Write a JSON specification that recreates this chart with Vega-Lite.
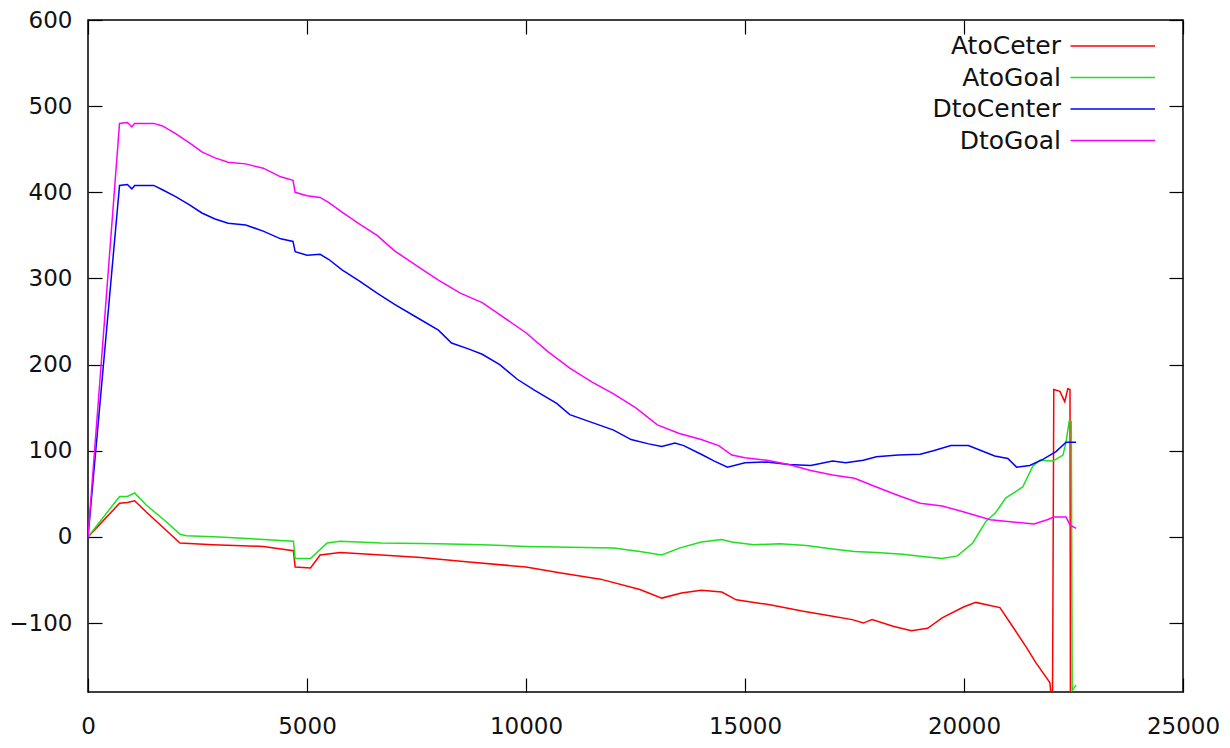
{
  "$schema": "https://vega.github.io/schema/vega-lite/v6.json",
  "width": 1095,
  "height": 672,
  "autosize": {"type": "none"},
  "padding": {"left": 88, "top": 20, "right": 47, "bottom": 56},
  "background": "white",
  "config": {
    "view": {"stroke": "#000", "strokeWidth": 1.5},
    "axis": {
      "labelFont": "DejaVu Sans",
      "labelFontSize": 23,
      "labelColor": "#111",
      "domain": false,
      "grid": false,
      "tickColor": "#000",
      "tickWidth": 1.2,
      "tickSize": -14,
      "title": null
    }
  },
  "datasets": {
    "series": [
      {"s": "AtoCeter", "x": 0, "v": 0},
      {"s": "AtoCeter", "x": 720, "v": 39},
      {"s": "AtoCeter", "x": 900, "v": 40},
      {"s": "AtoCeter", "x": 1065, "v": 42},
      {"s": "AtoCeter", "x": 1330, "v": 29},
      {"s": "AtoCeter", "x": 2100, "v": -7},
      {"s": "AtoCeter", "x": 2850, "v": -9},
      {"s": "AtoCeter", "x": 4000, "v": -11},
      {"s": "AtoCeter", "x": 4690, "v": -16},
      {"s": "AtoCeter", "x": 4730, "v": -35},
      {"s": "AtoCeter", "x": 5080, "v": -36},
      {"s": "AtoCeter", "x": 5300, "v": -21},
      {"s": "AtoCeter", "x": 5760, "v": -18},
      {"s": "AtoCeter", "x": 6700, "v": -21},
      {"s": "AtoCeter", "x": 7600, "v": -24},
      {"s": "AtoCeter", "x": 8700, "v": -29},
      {"s": "AtoCeter", "x": 10000, "v": -35},
      {"s": "AtoCeter", "x": 10800, "v": -42},
      {"s": "AtoCeter", "x": 11700, "v": -49},
      {"s": "AtoCeter", "x": 12600, "v": -61},
      {"s": "AtoCeter", "x": 13100, "v": -71},
      {"s": "AtoCeter", "x": 13550, "v": -65},
      {"s": "AtoCeter", "x": 14000, "v": -62},
      {"s": "AtoCeter", "x": 14470, "v": -64},
      {"s": "AtoCeter", "x": 14800, "v": -73},
      {"s": "AtoCeter", "x": 15600, "v": -79},
      {"s": "AtoCeter", "x": 16300, "v": -86},
      {"s": "AtoCeter", "x": 17000, "v": -92},
      {"s": "AtoCeter", "x": 17450, "v": -96},
      {"s": "AtoCeter", "x": 17700, "v": -100},
      {"s": "AtoCeter", "x": 17900, "v": -96},
      {"s": "AtoCeter", "x": 18400, "v": -104},
      {"s": "AtoCeter", "x": 18800, "v": -109},
      {"s": "AtoCeter", "x": 19170, "v": -106},
      {"s": "AtoCeter", "x": 19500, "v": -94},
      {"s": "AtoCeter", "x": 20000, "v": -81},
      {"s": "AtoCeter", "x": 20270, "v": -76},
      {"s": "AtoCeter", "x": 20820, "v": -82},
      {"s": "AtoCeter", "x": 21110, "v": -104},
      {"s": "AtoCeter", "x": 21410, "v": -127},
      {"s": "AtoCeter", "x": 21640, "v": -146},
      {"s": "AtoCeter", "x": 21960, "v": -169},
      {"s": "AtoCeter", "x": 22020, "v": -200},
      {"s": "AtoCeter", "x": 22050, "v": 171},
      {"s": "AtoCeter", "x": 22190, "v": 169},
      {"s": "AtoCeter", "x": 22300, "v": 157},
      {"s": "AtoCeter", "x": 22370, "v": 172},
      {"s": "AtoCeter", "x": 22420, "v": 171},
      {"s": "AtoCeter", "x": 22430, "v": -200},
      {"s": "AtoCeter", "x": 22560, "v": -200},

      {"s": "AtoGoal", "x": 0, "v": 0},
      {"s": "AtoGoal", "x": 720, "v": 47},
      {"s": "AtoGoal", "x": 900, "v": 47},
      {"s": "AtoGoal", "x": 1065, "v": 51},
      {"s": "AtoGoal", "x": 1330, "v": 37},
      {"s": "AtoGoal", "x": 1800, "v": 17},
      {"s": "AtoGoal", "x": 2100, "v": 3},
      {"s": "AtoGoal", "x": 2250, "v": 1.5},
      {"s": "AtoGoal", "x": 3000, "v": 0},
      {"s": "AtoGoal", "x": 4000, "v": -3},
      {"s": "AtoGoal", "x": 4690, "v": -5},
      {"s": "AtoGoal", "x": 4730, "v": -25},
      {"s": "AtoGoal", "x": 5080, "v": -25},
      {"s": "AtoGoal", "x": 5460, "v": -7},
      {"s": "AtoGoal", "x": 5760, "v": -5},
      {"s": "AtoGoal", "x": 6700, "v": -7},
      {"s": "AtoGoal", "x": 8000, "v": -8},
      {"s": "AtoGoal", "x": 9000, "v": -9},
      {"s": "AtoGoal", "x": 10000, "v": -11},
      {"s": "AtoGoal", "x": 11000, "v": -12},
      {"s": "AtoGoal", "x": 12000, "v": -13},
      {"s": "AtoGoal", "x": 12600, "v": -17},
      {"s": "AtoGoal", "x": 13100, "v": -21},
      {"s": "AtoGoal", "x": 13500, "v": -13},
      {"s": "AtoGoal", "x": 14000, "v": -6},
      {"s": "AtoGoal", "x": 14470, "v": -3},
      {"s": "AtoGoal", "x": 14700, "v": -6},
      {"s": "AtoGoal", "x": 15200, "v": -9},
      {"s": "AtoGoal", "x": 15800, "v": -8},
      {"s": "AtoGoal", "x": 16400, "v": -10},
      {"s": "AtoGoal", "x": 17000, "v": -14},
      {"s": "AtoGoal", "x": 17500, "v": -17},
      {"s": "AtoGoal", "x": 18000, "v": -18},
      {"s": "AtoGoal", "x": 18600, "v": -20},
      {"s": "AtoGoal", "x": 19100, "v": -23},
      {"s": "AtoGoal", "x": 19500, "v": -25},
      {"s": "AtoGoal", "x": 19850, "v": -22},
      {"s": "AtoGoal", "x": 20200, "v": -7},
      {"s": "AtoGoal", "x": 20500, "v": 18},
      {"s": "AtoGoal", "x": 20720, "v": 28},
      {"s": "AtoGoal", "x": 20950, "v": 45},
      {"s": "AtoGoal", "x": 21340, "v": 58},
      {"s": "AtoGoal", "x": 21570, "v": 82},
      {"s": "AtoGoal", "x": 21730, "v": 89},
      {"s": "AtoGoal", "x": 22030, "v": 88},
      {"s": "AtoGoal", "x": 22260, "v": 95},
      {"s": "AtoGoal", "x": 22330, "v": 110},
      {"s": "AtoGoal", "x": 22400, "v": 134},
      {"s": "AtoGoal", "x": 22450, "v": 134},
      {"s": "AtoGoal", "x": 22470, "v": -178},
      {"s": "AtoGoal", "x": 22560, "v": -172},

      {"s": "DtoCenter", "x": 0, "v": 0},
      {"s": "DtoCenter", "x": 720, "v": 408},
      {"s": "DtoCenter", "x": 900, "v": 409},
      {"s": "DtoCenter", "x": 1000, "v": 404},
      {"s": "DtoCenter", "x": 1065, "v": 408},
      {"s": "DtoCenter", "x": 1500, "v": 408},
      {"s": "DtoCenter", "x": 1700, "v": 403},
      {"s": "DtoCenter", "x": 2000, "v": 395},
      {"s": "DtoCenter", "x": 2300, "v": 386},
      {"s": "DtoCenter", "x": 2600, "v": 376},
      {"s": "DtoCenter", "x": 2900, "v": 369},
      {"s": "DtoCenter", "x": 3200, "v": 364},
      {"s": "DtoCenter", "x": 3600, "v": 362},
      {"s": "DtoCenter", "x": 4000, "v": 355},
      {"s": "DtoCenter", "x": 4400, "v": 346},
      {"s": "DtoCenter", "x": 4680, "v": 343},
      {"s": "DtoCenter", "x": 4730, "v": 331},
      {"s": "DtoCenter", "x": 5000, "v": 327},
      {"s": "DtoCenter", "x": 5300, "v": 328},
      {"s": "DtoCenter", "x": 5500, "v": 322},
      {"s": "DtoCenter", "x": 5800, "v": 310},
      {"s": "DtoCenter", "x": 6200, "v": 297},
      {"s": "DtoCenter", "x": 6600, "v": 283},
      {"s": "DtoCenter", "x": 7000, "v": 270},
      {"s": "DtoCenter", "x": 7500, "v": 255},
      {"s": "DtoCenter", "x": 8000, "v": 240},
      {"s": "DtoCenter", "x": 8300, "v": 225},
      {"s": "DtoCenter", "x": 8700, "v": 218},
      {"s": "DtoCenter", "x": 9000, "v": 212},
      {"s": "DtoCenter", "x": 9400, "v": 200},
      {"s": "DtoCenter", "x": 9800, "v": 183},
      {"s": "DtoCenter", "x": 10200, "v": 170},
      {"s": "DtoCenter", "x": 10700, "v": 155},
      {"s": "DtoCenter", "x": 11000, "v": 142},
      {"s": "DtoCenter", "x": 11500, "v": 133},
      {"s": "DtoCenter", "x": 12000, "v": 124},
      {"s": "DtoCenter", "x": 12400, "v": 113},
      {"s": "DtoCenter", "x": 12800, "v": 108},
      {"s": "DtoCenter", "x": 13100, "v": 105},
      {"s": "DtoCenter", "x": 13400, "v": 109},
      {"s": "DtoCenter", "x": 13600, "v": 106},
      {"s": "DtoCenter", "x": 14000, "v": 96},
      {"s": "DtoCenter", "x": 14300, "v": 88},
      {"s": "DtoCenter", "x": 14600, "v": 81},
      {"s": "DtoCenter", "x": 15000, "v": 86},
      {"s": "DtoCenter", "x": 15500, "v": 87},
      {"s": "DtoCenter", "x": 16000, "v": 84},
      {"s": "DtoCenter", "x": 16500, "v": 83},
      {"s": "DtoCenter", "x": 17000, "v": 88},
      {"s": "DtoCenter", "x": 17300, "v": 86},
      {"s": "DtoCenter", "x": 17700, "v": 89},
      {"s": "DtoCenter", "x": 18000, "v": 93},
      {"s": "DtoCenter", "x": 18500, "v": 95},
      {"s": "DtoCenter", "x": 19000, "v": 96},
      {"s": "DtoCenter", "x": 19300, "v": 100},
      {"s": "DtoCenter", "x": 19700, "v": 106},
      {"s": "DtoCenter", "x": 20100, "v": 106},
      {"s": "DtoCenter", "x": 20400, "v": 100},
      {"s": "DtoCenter", "x": 20700, "v": 94},
      {"s": "DtoCenter", "x": 21000, "v": 91},
      {"s": "DtoCenter", "x": 21200, "v": 81},
      {"s": "DtoCenter", "x": 21500, "v": 83},
      {"s": "DtoCenter", "x": 21800, "v": 90},
      {"s": "DtoCenter", "x": 22100, "v": 99},
      {"s": "DtoCenter", "x": 22330, "v": 110},
      {"s": "DtoCenter", "x": 22560, "v": 110},

      {"s": "DtoGoal", "x": 0, "v": 0},
      {"s": "DtoGoal", "x": 720, "v": 480},
      {"s": "DtoGoal", "x": 900, "v": 481},
      {"s": "DtoGoal", "x": 1000, "v": 476},
      {"s": "DtoGoal", "x": 1065, "v": 480},
      {"s": "DtoGoal", "x": 1500, "v": 480},
      {"s": "DtoGoal", "x": 1700, "v": 477},
      {"s": "DtoGoal", "x": 2000, "v": 468},
      {"s": "DtoGoal", "x": 2300, "v": 458},
      {"s": "DtoGoal", "x": 2600, "v": 447},
      {"s": "DtoGoal", "x": 2900, "v": 440},
      {"s": "DtoGoal", "x": 3200, "v": 435},
      {"s": "DtoGoal", "x": 3600, "v": 433},
      {"s": "DtoGoal", "x": 4000, "v": 428},
      {"s": "DtoGoal", "x": 4400, "v": 418},
      {"s": "DtoGoal", "x": 4680, "v": 414},
      {"s": "DtoGoal", "x": 4730, "v": 400},
      {"s": "DtoGoal", "x": 5000, "v": 396},
      {"s": "DtoGoal", "x": 5300, "v": 394},
      {"s": "DtoGoal", "x": 5500, "v": 388},
      {"s": "DtoGoal", "x": 5800, "v": 377},
      {"s": "DtoGoal", "x": 6200, "v": 363},
      {"s": "DtoGoal", "x": 6600, "v": 350},
      {"s": "DtoGoal", "x": 7000, "v": 332},
      {"s": "DtoGoal", "x": 7500, "v": 315},
      {"s": "DtoGoal", "x": 8000, "v": 298},
      {"s": "DtoGoal", "x": 8500, "v": 283},
      {"s": "DtoGoal", "x": 9000, "v": 272},
      {"s": "DtoGoal", "x": 9400, "v": 258},
      {"s": "DtoGoal", "x": 10000, "v": 237},
      {"s": "DtoGoal", "x": 10500, "v": 215},
      {"s": "DtoGoal", "x": 11000, "v": 196},
      {"s": "DtoGoal", "x": 11500, "v": 180},
      {"s": "DtoGoal", "x": 12000, "v": 166},
      {"s": "DtoGoal", "x": 12500, "v": 150},
      {"s": "DtoGoal", "x": 13000, "v": 130},
      {"s": "DtoGoal", "x": 13500, "v": 120},
      {"s": "DtoGoal", "x": 14000, "v": 113},
      {"s": "DtoGoal", "x": 14400, "v": 106},
      {"s": "DtoGoal", "x": 14700, "v": 95},
      {"s": "DtoGoal", "x": 15000, "v": 92},
      {"s": "DtoGoal", "x": 15500, "v": 89},
      {"s": "DtoGoal", "x": 16000, "v": 84},
      {"s": "DtoGoal", "x": 16500, "v": 77},
      {"s": "DtoGoal", "x": 17000, "v": 72},
      {"s": "DtoGoal", "x": 17500, "v": 68},
      {"s": "DtoGoal", "x": 18000, "v": 58},
      {"s": "DtoGoal", "x": 18500, "v": 48},
      {"s": "DtoGoal", "x": 19000, "v": 39},
      {"s": "DtoGoal", "x": 19500, "v": 36},
      {"s": "DtoGoal", "x": 20000, "v": 29},
      {"s": "DtoGoal", "x": 20600, "v": 20},
      {"s": "DtoGoal", "x": 21000, "v": 18},
      {"s": "DtoGoal", "x": 21600, "v": 15},
      {"s": "DtoGoal", "x": 21900, "v": 20},
      {"s": "DtoGoal", "x": 22050, "v": 23},
      {"s": "DtoGoal", "x": 22330, "v": 23},
      {"s": "DtoGoal", "x": 22420, "v": 14},
      {"s": "DtoGoal", "x": 22560, "v": 10}
    ]
  },
  "data": {"name": "series"},
  "layer": [
    {
      "mark": {"type": "line", "strokeWidth": 1.5, "clip": true},
      "encoding": {
        "x": {
          "field": "x", "type": "quantitative",
          "scale": {"domain": [0, 25000], "nice": false, "zero": false},
          "axis": {"orient": "bottom", "values": [0, 5000, 10000, 15000, 20000, 25000], "labelPadding": 37, "format": "d", "labelFlush": false}
        },
        "y": {
          "field": "v", "type": "quantitative",
          "scale": {"domain": [-180, 600], "nice": false, "zero": false},
          "axis": {"orient": "left", "values": [-100, 0, 100, 200, 300, 400, 500, 600], "labelPadding": 30, "format": "d"}
        },
        "color": {
          "field": "s", "type": "nominal",
          "scale": {"domain": ["AtoCeter", "AtoGoal", "DtoCenter", "DtoGoal"], "range": ["#ff0000", "#1ee01e", "#0000ff", "#ff00ff"]},
          "legend": {
            "title": null,
            "orient": "none",
            "legendX": 958,
            "legendY": 13.5,
            "padding": 0,
            "labelFont": "DejaVu Sans",
            "labelFontSize": 25,
            "labelColor": "#111",
            "labelAlign": "right",
            "labelOffset": -10,
            "symbolType": "M 2.4 0 L 19.3 0",
            "symbolSize": 100,
            "symbolStrokeWidth": 1.5,
            "rowPadding": 5.5
          }
        }
      }
    },
    {
      "mark": {"type": "point", "opacity": 0},
      "encoding": {
        "x": {
          "field": "x", "type": "quantitative",
          "axis": {"orient": "top", "values": [0, 5000, 10000, 15000, 20000, 25000], "labels": false}
        },
        "y": {
          "field": "v", "type": "quantitative",
          "axis": {"orient": "right", "values": [-100, 0, 100, 200, 300, 400, 500, 600], "labels": false}
        }
      }
    }
  ],
  "resolve": {"axis": {"x": "independent", "y": "independent"}}
}
